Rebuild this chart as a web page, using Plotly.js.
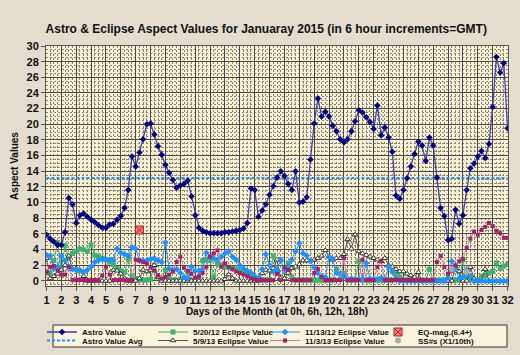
<!DOCTYPE html>
<html>
<head>
<meta charset="utf-8">
<script src="https://cdn.plot.ly/plotly-3.0.1.min.js"></script>
<style>
html,body{margin:0;padding:0;background:#e4dccf;}
#chart{width:520px;height:355px;}
</style>
</head>
<body>
<div id="chart"></div>
<script>
// ---- data (6-hour increments, day 1 00h .. day 32 00h) ----
const startDay = 1;
const stepDays = 0.25;

const astroValue = [
 5.9,5.4,5.0,4.6, 4.6,6.2,10.6,9.8, 7.4,8.4,8.6,8.2, 7.8,7.5,7.1,6.8,
 6.8,7.2,7.3,7.8, 8.3,9.3,11.6,15.9, 14.6,16.4,18.1,20.0, 20.1,18.7,17.2,16.1,
 14.8,13.8,12.9,11.9, 12.2,12.4,12.8,10.8, 8.4,6.8,6.4,6.2, 6.1,6.1,6.1,6.1,
 6.2,6.2,6.3,6.4, 6.5,6.7,7.4,11.8, 11.6,8.2,9.0,9.8, 11.0,12.1,13.2,14.0,
 13.4,12.4,11.6,14.0, 10.0,10.1,10.7,15.5, 20.1,23.3,21.0,21.6, 21.0,19.8,19.1,18.1,
 17.7,18.1,19.1,20.4, 21.8,21.5,20.9,20.3, 19.4,22.4,18.6,19.6, 18.3,16.5,10.9,10.5,
 11.6,13.1,14.6,16.2, 17.8,17.3,15.3,18.3, 17.3,13.2,9.3,8.3, 5.2,5.4,9.1,7.3,
 8.4,11.6,14.4,15.0, 15.9,16.6,15.7,17.5, 22.2,28.6,26.6,27.8, 19.5
];
const astroAvg = 13.15;

const ecl_5_20_12 = [
 1.0,1.0,2.6,4.9, 1.4,4.5,2.9,3.5, 3.8,4.1,4.0,3.8, 4.6,3.3,3.1,2.9,
 2.7,2.4,2.1,1.6, 1.3,1.1,2.8,0.6, 0.3,0.2,0.1,0.1, 0.2,2.0,0.5,0.2,
 1.4,0.2,0.1,0.1, 0.0,0.1,1.2,0.1, 0.2,0.3,2.6,2.7, 2.6,0.5,2.2,2.0,
 1.8,1.7,1.6,1.5, 1.3,1.1,0.9,0.7, 0.5,0.3,0.2,0.1, 0.1,3.2,1.0,0.5,
 1.5,2.3,0.5,0.1, 0.1,0.1,0.1,0.1, 0.1,0.1,0.1,0.1, 0.1,0.1,1.5,0.2,
 1.0,0.1,0.1,0.1, 2.5,0.1,0.1,0.1, 0.1,0.1,0.1,0.1, 0.1,0.1,0.9,0.5,
 0.1,0.1,0.1,0.1, 0.1,0.1,0.1,1.5, 0.1,0.1,0.1,0.1, 0.1,0.1,0.1,0.1,
 2.7,0.5,0.2,0.1, 0.1,0.6,0.7,1.0, 1.2,2.3,1.6,1.9, 2.1
];

const ecl_5_9_13 = [
 2.9,0.3,0.6,0.9, 1.4,2.0,3.2,1.5, 1.6,1.3,0.6,0.0, 0.0,0.0,0.0,0.0,
 0.0,0.0,1.4,1.3, 0.9,0.3,0.0,0.0, 0.0,0.3,1.4,1.2, 1.4,2.0,0.5,0.0,
 0.0,0.0,0.0,0.0, 0.0,0.0,0.0,0.0, 0.0,0.0,0.0,0.0, 0.0,0.0,0.0,0.0,
 0.2,0.8,0.3,0.0, 0.0,0.0,0.0,0.0, 0.0,0.0,1.0,1.4, 1.3,1.6,2.7,0.3,
 0.3,1.0,1.6,1.8, 2.1,2.6,2.6,2.6, 2.7,2.9,3.2,3.9, 3.1,2.8,2.9,2.9,
 3.4,5.3,4.1,5.9, 3.75,3.5,3.3,3.1, 2.9,2.7,2.5,2.9, 2.0,1.8,1.5,1.2,
 1.2,0.9,0.7,0.5, 1.1,0.0,0.0,0.0, 0.0,0.0,0.0,0.0, 0.0,0.0,1.8,1.2,
 0.0,0.0,1.75,0.3, 0.0,0.0,1.5,0.0, 0.0,0.0,0.0,0.0, 0.0
];

const ecl_11_13_12 = [
 3.3,3.2,1.6,1.8, 3.2,2.6,1.8,1.5, 1.4,1.4,1.1,1.4, 1.8,2.4,2.6,2.8,
 2.7,2.7,2.7,4.1, 3.6,3.4,3.2,4.3, 4.1,2.6,2.6,2.6, 2.8,2.9,2.6,2.4,
 4.9,1.6,1.4,1.5, 1.0,0.5,0.3,1.8, 1.3,1.3,1.5,3.6, 3.1,2.9,2.7,3.1,
 3.5,3.8,3.1,2.7, 2.0,1.6,1.3,1.0, 0.5,0.3,1.5,3.4, 2.0,1.2,1.5,2.7,
 1.3,1.8,2.7,3.8, 4.8,3.5,3.2,2.5, 1.7,1.0,0.6,0.5, 3.1,2.7,1.0,0.9,
 0.6,0.2,0.3,0.2, 0.2,0.2,2.3,0.3, 0.2,0.2,0.4,0.2, 1.8,1.2,0.3,0.0,
 0.0,0.0,0.0,0.0, 0.0,0.0,0.0,0.0, 0.0,0.0,0.0,0.0, 0.4,2.5,1.6,0.3,
 0.5,1.4,0.6,0.0, 0.0,0.0,0.0,0.0, 0.0,0.0,0.0,0.0, 0.0
];

const ecl_11_3_13 = [
 1.1,1.8,1.9,1.3, 0.8,0.8,1.8,0.1, 0.1,0.1,0.1,0.1, 0.1,0.1,0.1,0.7,
 1.8,0.8,0.1,0.1, 0.1,0.1,0.1,0.1, 2.7,2.6,2.4,2.2, 1.7,1.3,0.7,0.3,
 0.5,0.8,1.2,2.4, 3.1,1.7,1.3,0.9, 0.4,0.6,1.0,1.8, 3.1,3.5,3.9,1.8,
 2.2,1.8,1.5,1.2, 1.0,0.8,0.6,0.3, 0.2,0.1,0.1,0.1, 0.1,0.1,0.9,0.1,
 1.7,1.4,0.1,0.1, 0.1,0.1,0.1,0.1, 1.0,1.5,0.5,0.1, 0.1,0.1,0.1,0.1,
 2.9,0.1,0.1,0.1, 0.1,2.7,0.1,0.1, 0.1,1.8,2.5,0.1, 0.1,0.1,0.1,0.1,
 0.1,0.1,0.1,0.1, 0.1,0.1,0.1,0.1, 0.1,2.4,3.2,1.8, 0.9,1.3,2.0,2.5,
 2.8,4.2,5.4,6.3, 5.9,6.5,6.9,7.4, 7.0,6.4,6.1,5.5, 5.5
];

const eqDays = [7.25];
const eqMag = [6.5];

const ssDays = [28.25, 29.25];
const ssValues = [1.5, 1.2];

const xTickVals = [1,2,3,4,5,6,7,8,9,10,11,12,13,14,15,16,17,18,19,20,21,22,23,24,25,26,27,28,29,30,31,32];
const yTickVals = [0,2,4,6,8,10,12,14,16,18,20,22,24,26,28,30];

// ---- time axis ----
const times = astroValue.map((_, i) => startDay + i * stepDays);

const FONT = 'Liberation Sans, Arial, sans-serif';

const traces = [
  {name:'5/20/12 Eclipse Value', x:times, y:ecl_5_20_12, mode:'lines+markers',
   line:{color:'#3cb371', width:1}, marker:{symbol:'square', size:5, color:'#3cb371'},
   legend:'legend2'},
  {name:'5/9/13 Eclipse Value', x:times, y:ecl_5_9_13, mode:'lines+markers',
   line:{color:'#555555', width:1}, marker:{symbol:'triangle-up', size:5, color:'#ffffff', line:{color:'#333333', width:1}},
   legend:'legend6'},
  {name:'11/13/12 Eclipse Value', x:times, y:ecl_11_13_12, mode:'lines+markers',
   line:{color:'#1e90ff', width:1}, marker:{symbol:'diamond', size:5, color:'#1e90ff'},
   legend:'legend3'},
  {name:'11/3/13 Eclipse Value', x:times, y:ecl_11_3_13, mode:'lines+markers',
   line:{color:'#d67aa6', width:1}, marker:{symbol:'square', size:4, color:'#a3206a'},
   legend:'legend7'},
  {name:'SS#s (X1/10th)', x:ssDays, y:ssValues, mode:'markers',
   marker:{symbol:'circle', size:6, color:'#a9a9a9'},
   legend:'legend8'},
  {name:'EQ-mag.(6.4+)', x:eqDays, y:eqMag, mode:'markers',
   marker:{symbol:'square-x', size:8, color:'#f08080', line:{color:'#b22222', width:1}},
   legend:'legend4'},
  {name:'Astro Value Avg', x:[times[0], times[times.length-1]], y:[astroAvg, astroAvg], mode:'lines',
   line:{color:'#1e90ff', width:2, dash:'3px,2px'},
   legend:'legend5'},
  {name:'Astro Value', x:times, y:astroValue, mode:'lines+markers',
   line:{color:'#4040b0', width:1.3}, marker:{symbol:'diamond', size:5, color:'#000080'},
   legend:'legend'}
];

function mkLegend(px, rowTop) {
  return {
    orientation:'h', xref:'container', yref:'container', xanchor:'left', yanchor:'top',
    x:px/520, y:1 - rowTop/355,
    bgcolor:'rgba(0,0,0,0)', borderwidth:0, itemwidth:30,
    font:{family:FONT, size:8, color:'#111', weight:'bold'}
  };
}
const colX = [42, 153, 265, 378];
const rowTop = [317.5, 326];

const layout = {
  width:520, height:355,
  paper_bgcolor:'#e4dccf',
  plot_bgcolor:'#fbf0d2',
  margin:{l:46, r:12, t:46, b:69, autoexpand:false},
  showlegend:true,
  title:{text:'Astro & Eclipse Aspect Values for Januaray 2015 (in 6 hour increments=GMT)',
         font:{family:FONT, size:12, color:'#111', weight:'bold'},
         xref:'container', yref:'container', x:0.512, y:0.918, xanchor:'center', yanchor:'middle'},
  xaxis:{range:[0.97, 32.03], tickmode:'array', tickvals:xTickVals, tickangle:0,
         showgrid:true, gridcolor:'#4a4a4a', gridwidth:1,
         minor:{dtick:0.25, tick0:1, showgrid:true, gridcolor:'#85857c', griddash:'2px,2px', gridwidth:1},
         showline:true, mirror:true, linecolor:'#555', linewidth:1,
         ticks:'outside', ticklen:4, tickcolor:'#555',
         tickfont:{family:FONT, size:11, color:'#111', weight:'bold'},
         zeroline:false,
         title:{text:'Days of the Month (at 0h, 6h, 12h, 18h)', standoff:4,
                font:{family:FONT, size:10, color:'#111', weight:'bold'}}},
  yaxis:{range:[-0.65, 30], tickmode:'array', tickvals:yTickVals,
         showgrid:true, gridcolor:'#4a4a4a', gridwidth:1,
         minor:{dtick:0.5, tick0:0, showgrid:true, gridcolor:'#85857c', griddash:'2px,2px', gridwidth:1},
         showline:true, mirror:true, linecolor:'#555', linewidth:1,
         ticks:'outside', ticklen:4, tickcolor:'#555',
         tickfont:{family:FONT, size:11, color:'#111', weight:'bold'},
         zeroline:false,
         title:{text:'Aspect Values', standoff:6,
                font:{family:FONT, size:10, color:'#111', weight:'bold'}}},
  legend: mkLegend(colX[0], rowTop[0]),
  legend2: mkLegend(colX[1], rowTop[0]),
  legend3: mkLegend(colX[2], rowTop[0]),
  legend4: mkLegend(colX[3], rowTop[0]),
  legend5: mkLegend(colX[0], rowTop[1]),
  legend6: mkLegend(colX[1], rowTop[1]),
  legend7: mkLegend(colX[2], rowTop[1]),
  legend8: mkLegend(colX[3], rowTop[1]),
  shapes:[{type:'rect', xref:'paper', yref:'paper', layer:'above',
           x0:(53-46)/462, x1:(507-46)/462, y0:(286-347)/240, y1:(286-325)/240,
           fillcolor:'#fcf3dc', line:{color:'#333', width:1}}]
};

Plotly.newPlot('chart', traces, layout, {displayModeBar:false, staticPlot:true});
</script>
</body>
</html>
